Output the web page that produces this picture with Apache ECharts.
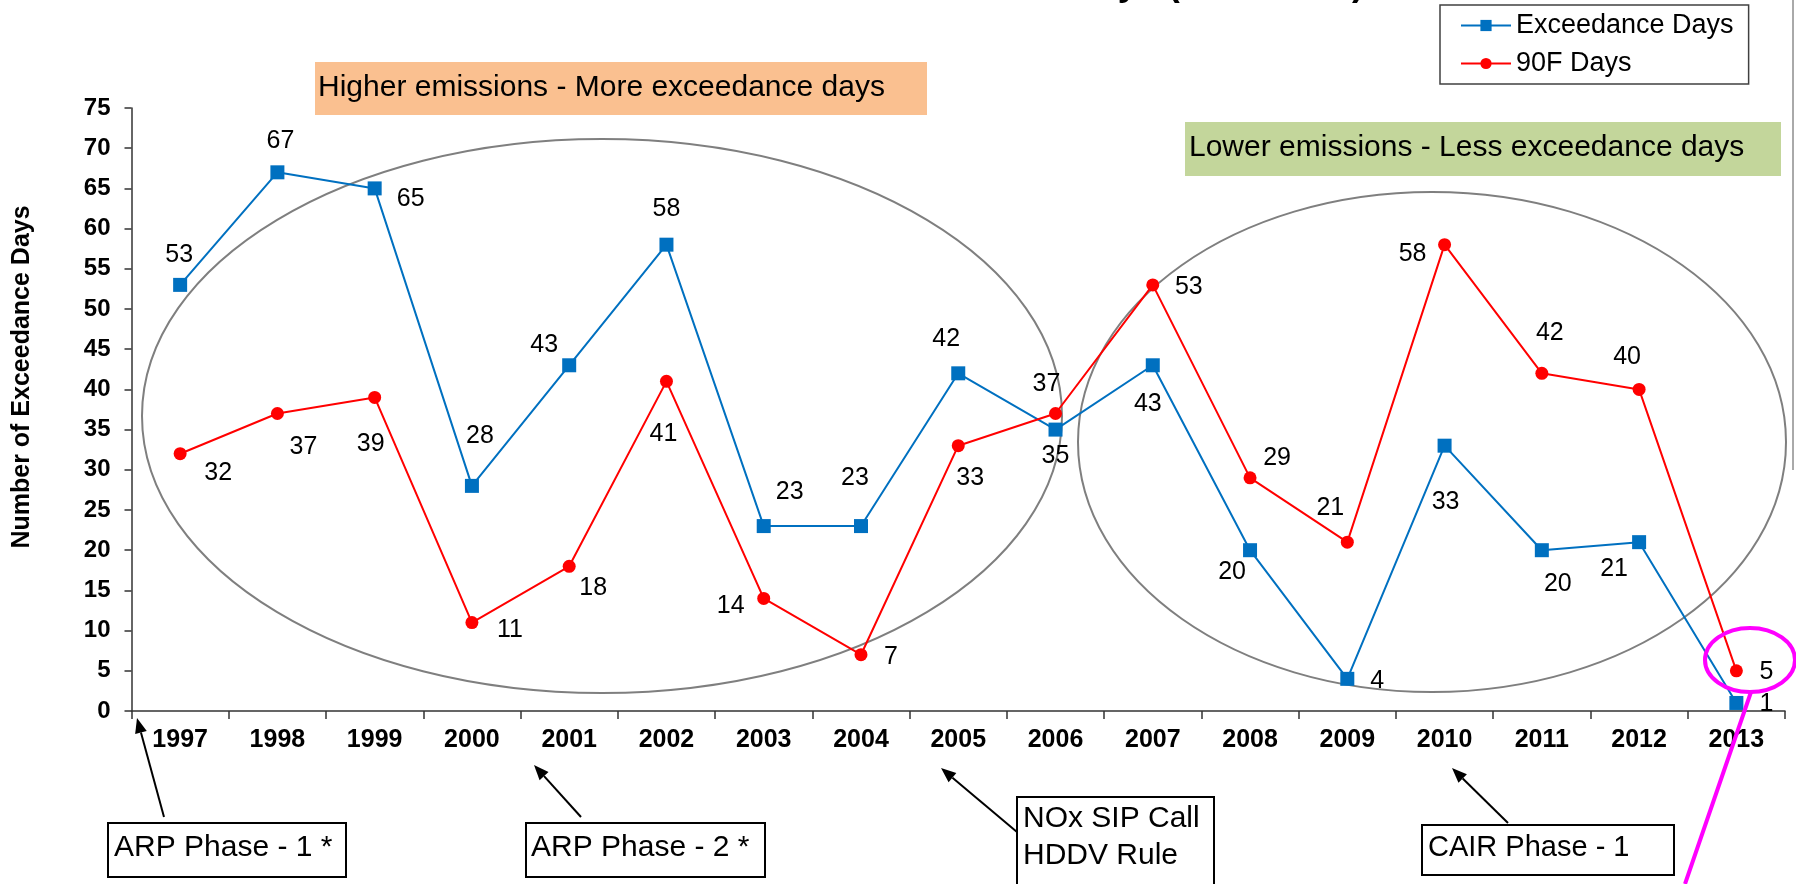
<!DOCTYPE html>
<html>
<head>
<meta charset="utf-8">
<script src="https://cdn.jsdelivr.net/npm/echarts@6/dist/echarts.min.js"></script>
<style>
  html, body { margin: 0; padding: 0; background: #fff; }
  #chart { width: 1796px; height: 884px; }
</style>
</head>
<body>
<div id="chart"></div>
<script>
// values
const years = ['1997', '1998', '1999', '2000', '2001', '2002', '2003', '2004', '2005',
               '2006', '2007', '2008', '2009', '2010', '2011', '2012', '2013'];
const exceedanceDays = [53, 67, 65, 28, 43, 58, 23, 23, 42, 35, 43, 20, 4, 33, 20, 21, 1];
const hotDays = [32, 37, 39, 11, 18, 41, 14, 7, 33, 37, 53, 29, 21, 58, 42, 40, 5];

// where each value label sits relative to its marker (px)
const exceedLabelOffsets = [[-1, -30], [3, -31], [36, 11], [8, -50], [-25, -20], [0, -36], [26, -34],
  [-6, -48], [-12, -34], [0, 27], [-5, 39], [-18, 22], [30, 2], [1, 56], [16, 34], [-25, 27], [30, 1]];
const hotLabelOffsets = [[38, 19], [26, 34], [-4, 47], [38, 8], [24, 22], [-3, 53], [-33, 8],
  [30, 2], [12, 32], [-9, -29], [36, 2], [27, -20], [-17, -34], [-32, 9], [8, -40], [-12, -32], [30, 1]];

const FONT = "'Liberation Sans', Arial, sans-serif";

function arrow(x1, y1, x2, y2) {
    let ang = Math.atan2(y2 - y1, x2 - x1);
    let L = 15, W = 6;
    let bx = x2 - L * Math.cos(ang), by = y2 - L * Math.sin(ang);
    let px = -Math.sin(ang) * W, py = Math.cos(ang) * W;
    return [
        { type: 'line', shape: { x1: x1, y1: y1, x2: bx, y2: by }, style: { stroke: '#000', lineWidth: 2 } },
        { type: 'polygon', shape: { points: [[x2, y2], [bx + px, by + py], [bx - px, by - py]] }, style: { fill: '#000' } }
    ];
}

function box(x, y, w, h, lines, tx, ty, lh, size) {
    let els = [{ type: 'rect', shape: { x: x, y: y, width: w, height: h },
                 style: { fill: '#fff', stroke: '#000', lineWidth: 2 } }];
    lines.forEach(function (t, i) {
        els.push({ type: 'text', x: tx, y: ty + i * lh,
                   style: { text: t, font: size + 'px ' + FONT, fill: '#000', align: 'left', verticalAlign: 'middle' } });
    });
    return els;
}

let chart = echarts.init(document.getElementById('chart'));

let graphics = [
    // title, mostly above the frame
    { type: 'text', x: 1364, y: -15, style: { text: 'Number of Exceedance Days (1997-2013)',
        font: 'bold 36px ' + FONT, fill: '#000', align: 'right', verticalAlign: 'middle' } },
    { type: 'line', shape: { x1: 1793, y1: 0, x2: 1793, y2: 470 }, style: { stroke: '#555', lineWidth: 1 } },
    // y axis title
    { type: 'text', x: 22, y: 377, rotation: Math.PI / 2, style: { text: 'Number of Exceedance Days',
        font: 'bold 25px ' + FONT, fill: '#000', align: 'center', verticalAlign: 'middle' } },
    // highlight boxes
    { type: 'rect', shape: { x: 315, y: 62, width: 612, height: 53 }, style: { fill: '#FAC090' } },
    { type: 'text', x: 318, y: 88, style: { text: 'Higher emissions - More exceedance days',
        font: '30px ' + FONT, fill: '#000', verticalAlign: 'middle' } },
    { type: 'rect', shape: { x: 1185, y: 122, width: 596, height: 54 }, style: { fill: '#C3D69B' } },
    { type: 'text', x: 1189, y: 148, style: { text: 'Lower emissions - Less exceedance days',
        font: '30px ' + FONT, fill: '#000', verticalAlign: 'middle' } },
    // grouping ellipses
    { type: 'ellipse', shape: { cx: 602, cy: 416, rx: 460, ry: 277 }, style: { fill: null, stroke: '#7f7f7f', lineWidth: 2 }, z: 1 },
    { type: 'ellipse', shape: { cx: 1432, cy: 442, rx: 354, ry: 250 }, style: { fill: null, stroke: '#7f7f7f', lineWidth: 2 }, z: 1 },
    { type: 'ellipse', shape: { cx: 1750, cy: 660, rx: 45, ry: 32 }, style: { fill: null, stroke: '#FF00FF', lineWidth: 4 }, z: 10 },
    { type: 'line', shape: { x1: 1685, y1: 884, x2: 1751, y2: 692 }, style: { stroke: '#FF00FF', lineWidth: 4 }, z: 10 }
];
graphics = graphics
    .concat(arrow(164, 817, 137, 718))
    .concat(arrow(581, 817, 534, 765))
    .concat(arrow(1017, 832, 941, 768))
    .concat(arrow(1508, 823, 1452, 768))
    .concat(box(108, 823, 238, 54, ['ARP Phase - 1 *'], 114, 848, 0, 30))
    .concat(box(526, 823, 239, 54, ['ARP Phase - 2 *'], 531, 848, 0, 30))
    .concat(box(1017, 797, 197, 100, ['NOx SIP Call', 'HDDV Rule'], 1023, 819, 37, 30))
    .concat(box(1422, 825, 252, 50, ['CAIR Phase - 1'], 1428, 848, 0, 29));

let option = {
    animation: false,
    backgroundColor: '#fff',
    textStyle: { fontFamily: FONT },
    grid: { left: 131.5, right: 11, top: 108, bottom: 173, containLabel: false, outerBoundsMode: 'none' },
    legend: {
        orient: 'vertical',
        left: 1440,
        top: 5,
        padding: [7, 15, 7, 20],
        itemWidth: 50,
        itemHeight: 14,
        itemGap: 11,
        borderColor: '#404040',
        borderWidth: 1.5,
        backgroundColor: '#fff',
        textStyle: { fontSize: 27, color: '#000', fontFamily: FONT },
        data: ['Exceedance Days', '90F Days']
    },
    xAxis: {
        type: 'category',
        data: years,
        boundaryGap: true,
        axisLine: { lineStyle: { color: '#333', width: 1.5 } },
        axisTick: { show: true, length: 8, lineStyle: { color: '#333', width: 1.5 } },
        axisLabel: { color: '#000', fontSize: 25, fontWeight: 'bold', margin: 17, fontFamily: FONT },
        splitLine: { show: false }
    },
    yAxis: {
        type: 'value',
        min: 0,
        max: 75,
        interval: 5,
        axisLine: { show: true, lineStyle: { color: '#333', width: 1.5 } },
        axisTick: { show: true, length: 7, lineStyle: { color: '#333', width: 1.5 } },
        axisLabel: { color: '#000', fontSize: 24, fontWeight: 'bold', margin: 21, fontFamily: FONT },
        splitLine: { show: false }
    },
    series: [
        {
            name: 'Exceedance Days',
            type: 'line',
            z: 3,
            data: exceedanceDays.map(function (v, i) {
                return { value: v, label: { offset: exceedLabelOffsets[i] } };
            }),
            symbol: 'rect',
            symbolSize: 14,
            itemStyle: { color: '#0070C0' },
            lineStyle: { color: '#0070C0', width: 2 },
            label: { show: true, position: 'inside', color: '#000', fontSize: 25, fontFamily: FONT }
        },
        {
            name: '90F Days',
            type: 'line',
            z: 4,
            data: hotDays.map(function (v, i) {
                return { value: v, label: { offset: hotLabelOffsets[i] } };
            }),
            symbol: 'circle',
            symbolSize: 13,
            itemStyle: { color: '#FF0000' },
            lineStyle: { color: '#FF0000', width: 2 },
            label: { show: true, position: 'inside', color: '#000', fontSize: 25, fontFamily: FONT }
        }
    ],
    graphic: graphics
};

chart.setOption(option);
</script>
</body>
</html>
